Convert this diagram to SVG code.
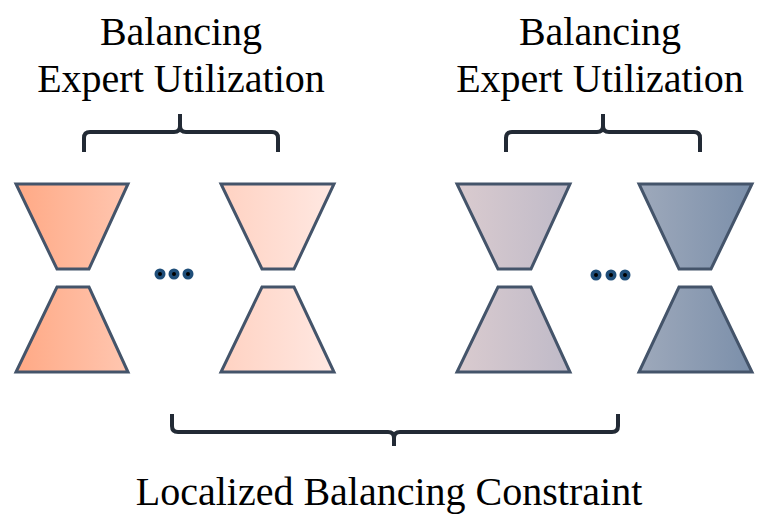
<svg xmlns="http://www.w3.org/2000/svg" width="765" height="530" viewBox="0 0 765 530">
<defs>
<linearGradient id="g1" x1="0" x2="1" y1="0" y2="0"><stop offset="0" stop-color="#ffa985"/><stop offset="1" stop-color="#ffc6b0"/></linearGradient>
<linearGradient id="g2" x1="0" x2="1" y1="0" y2="0"><stop offset="0" stop-color="#ffd2c2"/><stop offset="1" stop-color="#ffe8e2"/></linearGradient>
<linearGradient id="g3" x1="0" x2="1" y1="0" y2="0"><stop offset="0" stop-color="#dacbcf"/><stop offset="1" stop-color="#bfbac8"/></linearGradient>
<linearGradient id="g4" x1="0" x2="1" y1="0" y2="0"><stop offset="0" stop-color="#9ea9bb"/><stop offset="1" stop-color="#7b8faa"/></linearGradient>
</defs>
<style>
text{font-family:'Liberation Serif','DejaVu Serif',serif;font-size:40px;fill:#000;text-anchor:middle}
.tr{stroke:#44546a;stroke-width:3;stroke-linejoin:miter}
.br{fill:none;stroke:#222a35;stroke-width:4;stroke-linejoin:round}
.dot{fill:#1f4e79}
.dc{fill:#000}
</style>
<rect width="765" height="530" fill="#fff"/>
<g id="label-left">
<text x="181" y="45" font-family="Liberation Serif, serif">Balancing</text>
<text x="181" y="92" font-family="Liberation Serif, serif">Expert Utilization</text>
</g>
<g id="label-right">
<text x="600" y="45" font-family="Liberation Serif, serif">Balancing</text>
<text x="600" y="92" font-family="Liberation Serif, serif">Expert Utilization</text>
</g>
<g id="label-bottom">
<text x="389" y="505" font-family="Liberation Serif, serif">Localized Balancing Constraint</text>
</g>
<g id="expert-1">
<polygon class="tr" fill="url(#g1)" points="16,184 128,184 89,269 57,269"/>
<polygon class="tr" fill="url(#g1)" points="57,287 89,287 128,372 16,372"/>
</g>
<g id="expert-2">
<polygon class="tr" fill="url(#g2)" points="221,184 334,184 294,269 262,269"/>
<polygon class="tr" fill="url(#g2)" points="262,287 294,287 334,372 221,372"/>
</g>
<g id="expert-3">
<polygon class="tr" fill="url(#g3)" points="457,184 570,184 531,269 498,269"/>
<polygon class="tr" fill="url(#g3)" points="498,287 531,287 570,372 457,372"/>
</g>
<g id="expert-4">
<polygon class="tr" fill="url(#g4)" points="639,184 752,184 711,269 679,269"/>
<polygon class="tr" fill="url(#g4)" points="679,287 711,287 752,372 639,372"/>
</g>
<g id="dots-left">
<circle class="dot" cx="160" cy="274" r="5.5"/><circle class="dc" cx="160" cy="274" r="2"/>
<circle class="dot" cx="174" cy="274" r="5.5"/><circle class="dc" cx="174" cy="274" r="2"/>
<circle class="dot" cx="188" cy="274" r="5.5"/><circle class="dc" cx="188" cy="274" r="2"/>
</g>
<g id="dots-right">
<circle class="dot" cx="596" cy="275" r="5.5"/><circle class="dc" cx="596" cy="275" r="2"/>
<circle class="dot" cx="611" cy="275" r="5.5"/><circle class="dc" cx="611" cy="275" r="2"/>
<circle class="dot" cx="625" cy="275" r="5.5"/><circle class="dc" cx="625" cy="275" r="2"/>
</g>
<g id="connectors">
<path class="br" d="M84,152 V138 Q84,132 90,132 H174 Q180,132 180,126 V114 M180,126 Q180,132 186,132 H272 Q278,132 278,138 V152"/>
<path class="br" d="M506,152 V138 Q506,132 512,132 H597 Q603,132 603,126 V114 M603,126 Q603,132 609,132 H694 Q700,132 700,138 V152"/>
<path class="br" d="M172,414 V426 Q172,432 178,432 H388 Q394,432 394,438 V446 M394,438 Q394,432 400,432 H612 Q618,432 618,426 V414"/>
</g>
</svg>
